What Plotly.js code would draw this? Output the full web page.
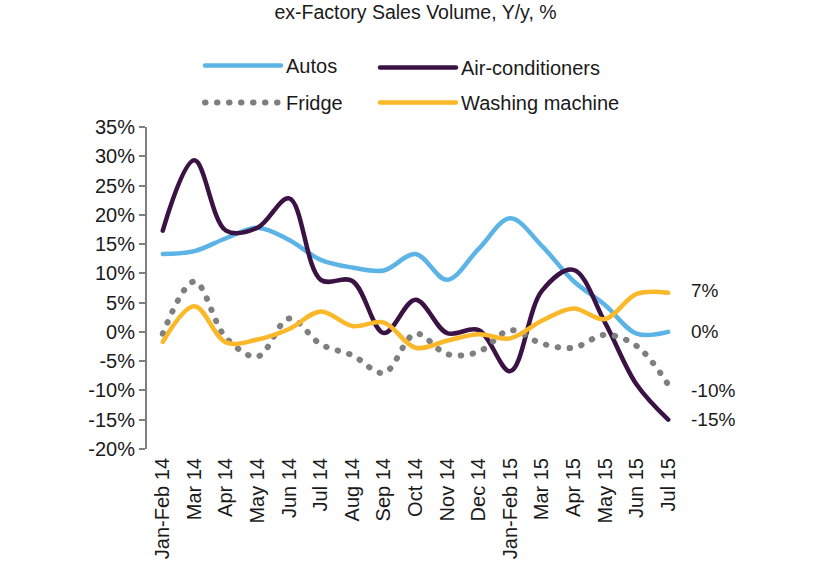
<!DOCTYPE html>
<html><head><meta charset="utf-8">
<script src="https://cdn.plot.ly/plotly-3.0.1.min.js"></script>
<style>
html,body{margin:0;padding:0;background:#fff;}
#chart{width:820px;height:563px;}
path.js-line{stroke-linecap:round;stroke-linejoin:round;}
</style></head><body><div id="chart"></div>
<script>
const categories = ['Jan-Feb 14','Mar 14','Apr 14','May 14','Jun 14','Jul 14','Aug 14','Sep 14','Oct 14','Nov 14','Dec 14','Jan-Feb 15','Mar 15','Apr 15','May 15','Jun 15','Jul 15'];
const autos  = [13.3, 13.8, 16.0, 17.8, 15.7, 12.3, 11.0, 10.5, 13.3, 8.9, 14.2, 19.4, 14.7, 8.7, 4.6, -0.3, 0.0];
const aircon = [17.3, 29.3, 17.3, 17.8, 22.8, 8.9, 8.7, -0.2, 5.5, -0.2, 0.3, -6.7, 7.0, 10.6, 1.6, -9.0, -15.0];
const fridge = [-0.3, 8.6, -1.0, -4.2, 2.3, -2.1, -4.0, -7.0, -0.3, -3.8, -3.4, 0.3, -2.0, -2.7, -0.5, -2.4, -9.0];
const washer = [-1.7, 4.4, -1.8, -1.3, 0.5, 3.5, 1.0, 1.6, -2.7, -1.5, -0.4, -1.1, 1.9, 4.0, 2.2, 6.5, 6.7];
const seriesNames = ['Autos','Air-conditioners','Fridge','Washing machine'];
const yTicks = [-20,-15,-10,-5,0,5,10,15,20,25,30,35];
const endLabelValues = [7, 0, -10, -15];
const chartTitle = 'ex-Factory Sales Volume, Y/y, %';

const FONT = 'Liberation Sans, Arial, sans-serif';
const GRAY = '#808080';
const fmt = v => (v < 0 ? '-' + Math.abs(v) : String(v)) + '%';

const traces = [
  {x: categories, y: autos, name: seriesNames[0], type: 'scatter', mode: 'lines',
   line: {color: '#5BB4E5', width: 4.5, shape: 'spline', smoothing: 1}, legend: 'legend'},
  {x: categories, y: aircon, name: seriesNames[1], type: 'scatter', mode: 'lines',
   line: {color: '#3B1244', width: 4.5, shape: 'spline', smoothing: 1}, legend: 'legend2'},
  {x: categories, y: fridge, name: seriesNames[2], type: 'scatter', mode: 'lines',
   line: {color: '#7F7F7F', width: 6, shape: 'spline', smoothing: 1, dash: '0.5px,11.5px'}, legend: 'legend3'},
  {x: categories, y: washer, name: seriesNames[3], type: 'scatter', mode: 'lines',
   line: {color: '#FBB829', width: 4.5, shape: 'spline', smoothing: 1}, legend: 'legend4'}
];

const boundaries = [-0.5].concat(categories.map((_, i) => i + 0.5));

const legendBase = {orientation: 'h', xref: 'container', yref: 'container',
  xanchor: 'left', yanchor: 'top', itemwidth: 76,
  font: {family: FONT, size: 20, color: '#1a1a1a'}, bgcolor: 'rgba(0,0,0,0)'};
const col1 = 200/820, col2 = 375/820, row1 = 1 - 46/563, row2 = 1 - 83/563;

const layout = {
  width: 820, height: 563,
  margin: {l: 147, r: 136, t: 127, b: 114},
  paper_bgcolor: '#fff', plot_bgcolor: 'rgba(0,0,0,0)',
  font: {family: FONT, size: 20, color: '#1a1a1a'},
  title: {text: chartTitle, font: {family: FONT, size: 19.5, color: '#1a1a1a'},
          x: 0.5, xref: 'paper', y: 1 - 12/563, yref: 'container', yanchor: 'middle'},
  showlegend: true,
  legend:  Object.assign({}, legendBase, {x: col1, y: row1}),
  legend2: Object.assign({}, legendBase, {x: col2, y: row1 - 2/563}),
  legend3: Object.assign({}, legendBase, {x: col1, y: row2}),
  legend4: Object.assign({}, legendBase, {x: col2, y: row2}),
  xaxis: {type: 'category', categoryorder: 'array', categoryarray: categories,
          range: [-0.5, categories.length - 0.5], showline: false, ticks: '', showgrid: false, zeroline: false,
          tickangle: -90, tickfont: {family: FONT, size: 20, color: '#1a1a1a'}, ticklabelstandoff: 4},
  xaxis2: {overlaying: 'x', anchor: 'free', position: (0 - yTicks[0]) / (yTicks[yTicks.length-1] - yTicks[0]),
           type: 'linear', range: [-0.5, categories.length - 0.5], tickmode: 'array', tickvals: boundaries,
           showticklabels: false, ticks: 'outside', ticklen: 6, tickwidth: 2, tickcolor: GRAY,
           showline: true, linecolor: GRAY, linewidth: 2, showgrid: false, zeroline: false, layer: 'below traces'},
  yaxis: {range: [yTicks[0], yTicks[yTicks.length-1]], tickmode: 'array', tickvals: yTicks, ticktext: yTicks.map(fmt),
          showline: true, linecolor: GRAY, linewidth: 2, ticks: 'outside', ticklen: 6, tickwidth: 2, tickcolor: GRAY,
          showgrid: false, zeroline: false, tickfont: {family: FONT, size: 20, color: '#1a1a1a'}, layer: 'below traces'},
  annotations: endLabelValues.map(v => ({
    x: 1, xref: 'paper', y: v, yref: 'y', text: fmt(v), showarrow: false,
    xanchor: 'left', yanchor: 'middle', xshift: 5,
    font: {family: FONT, size: 19, color: '#1a1a1a'}
  }))
};

Plotly.newPlot('chart', traces, layout, {displayModeBar: false, staticPlot: true});
</script></body></html>
